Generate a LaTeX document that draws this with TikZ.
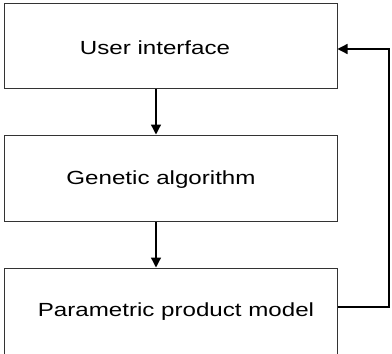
\documentclass[tikz,border=0pt]{standalone}
\usepackage{fontspec}
\setmainfont{Liberation Sans}
\usepackage{graphicx}
\usetikzlibrary{arrows.meta}
\tikzset{
  box/.style={draw=black!80, line width=1pt, rectangle, minimum width=332.5pt, inner sep=0pt},
  lbl/.style={inner sep=0pt, font=\fontsize{19}{22}\selectfont, anchor=center},
  conn/.style={line width=1.3pt, -{Triangle[length=10pt,width=10pt]}},
}
\newcommand{\wide}[1]{\scalebox{1.27}[1]{#1}}
\begin{document}
\begin{tikzpicture}[x=1pt,y=-1pt]
\useasboundingbox (0,0) rectangle (392,354);
\clip (0,0) rectangle (392,354);
\node[box, minimum height=85.7pt] (ui) at (170.75,45.85) {};
\node[box, minimum height=86.7pt] (ga) at (170.75,178.35) {};
\node[box, minimum height=92pt] (pm) at (170.75,314) {};
\node[lbl] (tui) at (155,48) {\wide{User interface}};
\node[lbl] (tga) at (161,180) {\wide{Genetic algorithm}};
\node[lbl] (tpm) at (176,312) {\wide{Parametric product model}};
\coordinate (c1) at (389,307);
\coordinate (c2) at (389,49);
\draw[conn] (ui.south -| 156,0) -- (ga.north -| 156,0);
\draw[conn] (ga.south -| 156,0) -- (pm.north -| 156,0);
\draw[conn, rounded corners=0pt] (pm.east |- c1) -- (c1) -- (c2) -- (ui.east |- c2);
\end{tikzpicture}
\end{document}
